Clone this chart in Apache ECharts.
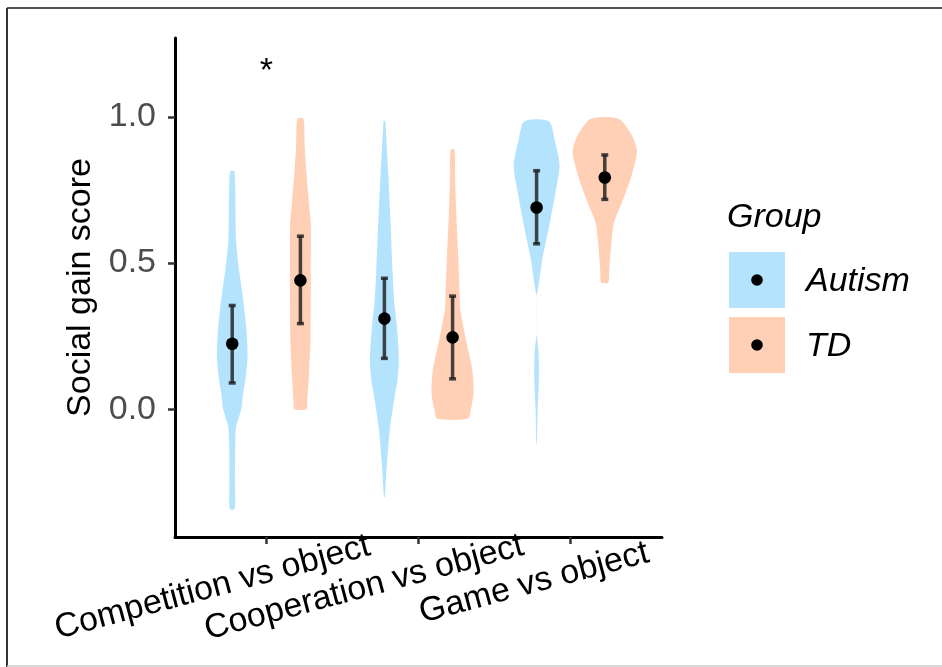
<!DOCTYPE html>
<html>
<head>
<meta charset="utf-8">
<script src="https://cdn.jsdelivr.net/npm/echarts@6/dist/echarts.min.js"></script>
<style>
  html, body { margin: 0; padding: 0; background: #fff; }
  #chart { width: 942px; height: 667px; }
</style>
</head>
<body>
<div id="chart"></div>
<script>
// ---- data ----
const categories = ['Competition vs object', 'Cooperation vs object', 'Game vs object'];
const groups = ['Autism', 'TD'];
const groupColors = ['#b3e3fd', '#ffd0b5'];
const yTicks = [0, 0.5, 1.0];

// violin outlines: score levels (top -> bottom) and half widths (in category units)
const compAutismY = [0.814, 0.745, 0.65, 0.57, 0.48, 0.40, 0.28, 0.18, 0.10, 0.055, 0.0, -0.06, -0.117, -0.234, -0.341];
const compAutismW = [0.013, 0.020, 0.022, 0.026, 0.044, 0.066, 0.092, 0.101, 0.086, 0.072, 0.059, 0.026, 0.020, 0.018, 0.016];
const compTdY = [0.994, 0.90, 0.80, 0.70, 0.63, 0.455, 0.35, 0.23, 0.11, 0.02, 0.0];
const compTdW = [0.020, 0.028, 0.041, 0.057, 0.068, 0.068, 0.068, 0.066, 0.055, 0.044, 0.040];
const coopAutismY = [0.986, 0.90, 0.80, 0.63, 0.455, 0.36, 0.283, 0.17, 0.10, 0.055, -0.06, -0.176, -0.26, -0.30];
const coopAutismW = [0.005, 0.015, 0.026, 0.041, 0.055, 0.066, 0.082, 0.095, 0.086, 0.071, 0.038, 0.018, 0.008, 0.003];
const coopTdY = [0.887, 0.80, 0.686, 0.514, 0.40, 0.34, 0.28, 0.227, 0.134, 0.055, 0.0, -0.032];
const coopTdW = [0.013, 0.016, 0.023, 0.038, 0.046, 0.051, 0.072, 0.092, 0.130, 0.138, 0.120, 0.101];
const gameAutismY = [0.985, 0.917, 0.835, 0.745, 0.63, 0.514, 0.434, 0.40, 0.387, 0.26, 0.25, 0.20, 0.134, 0.07, 0.0, -0.118];
const gameAutismW = [0.080, 0.120, 0.151, 0.125, 0.084, 0.038, 0.016, 0.005, 0.0, 0.0, 0.002, 0.012, 0.016, 0.013, 0.007, 0.002];
const gameTdY = [0.994, 0.939, 0.882, 0.80, 0.71, 0.64, 0.572, 0.48, 0.434];
const gameTdW = [0.091, 0.176, 0.211, 0.176, 0.115, 0.061, 0.044, 0.030, 0.023];

// mean and error bar ends per category
const autismMean = [0.224, 0.310, 0.690];
const autismLow = [0.090, 0.174, 0.566];
const autismHigh = [0.355, 0.448, 0.816];
const tdMean = [0.441, 0.246, 0.793];
const tdLow = [0.293, 0.104, 0.718];
const tdHigh = [0.592, 0.387, 0.870];

// significance marks
const sigCategory = [0];
const sigLevel = [1.155];
const sigText = ['*'];

const violinY = [[compAutismY, coopAutismY, gameAutismY], [compTdY, coopTdY, gameTdY]];
const violinW = [[compAutismW, coopAutismW, gameAutismW], [compTdW, coopTdW, gameTdW]];
const means = [autismMean, tdMean];
const lows = [autismLow, tdLow];
const highs = [autismHigh, tdHigh];

const FONT = '"Liberation Sans", Arial, sans-serif';
const FS = 34;
const DODGE = 0.224;
const Y_MIN = -0.437;
const Y_MAX = 1.27;

const chart = echarts.init(document.getElementById('chart'));

const measure = document.createElement('canvas').getContext('2d');
measure.font = FS + 'px ' + FONT;

function violinSeries(g) {
  return {
    type: 'custom',
    name: groups[g],
    coordinateSystem: 'cartesian2d',
    data: categories.map((c, i) => [i + 1, 0]),
    renderItem(params, api) {
      const i = api.value(0) - 1;
      const band = api.size([1, 0])[0];
      const cx = api.coord([i + 1, 0])[0] + (g === 0 ? -1 : 1) * DODGE * band;
      const ys = violinY[g][i], ws = violinW[g][i];
      const right = ys.map((y, k) => [cx + ws[k] * band, api.coord([i + 1, y])[1]]);
      const left = ys.map((y, k) => [cx - ws[k] * band, api.coord([i + 1, y])[1]]).reverse();
      return {
        type: 'polygon',
        shape: { points: right.concat(left), smooth: 0.25 },
        style: { fill: groupColors[g], stroke: null }
      };
    },
    z: 2
  };
}

function summarySeries(g) {
  return {
    type: 'custom',
    name: groups[g] + ' mean',
    coordinateSystem: 'cartesian2d',
    data: categories.map((c, i) => [i + 1, means[g][i]]),
    renderItem(params, api) {
      const i = api.value(0) - 1;
      const band = api.size([1, 0])[0];
      const cx = api.coord([i + 1, 0])[0] + (g === 0 ? -1 : 1) * DODGE * band;
      const yl = api.coord([i + 1, lows[g][i]])[1];
      const yh = api.coord([i + 1, highs[g][i]])[1];
      const ym = api.coord([i + 1, means[g][i]])[1];
      const bar = { stroke: 'rgba(30,30,30,0.82)', lineWidth: 3.5 };
      return {
        type: 'group',
        children: [
          { type: 'line', shape: { x1: cx, y1: yl, x2: cx, y2: yh }, style: bar },
          { type: 'line', shape: { x1: cx - 3.5, y1: yl, x2: cx + 3.5, y2: yl }, style: bar },
          { type: 'line', shape: { x1: cx - 3.5, y1: yh, x2: cx + 3.5, y2: yh }, style: bar },
          { type: 'circle', shape: { cx: cx, cy: ym, r: 6.3 }, style: { fill: '#000' } }
        ]
      };
    },
    z: 3
  };
}

// rotated category labels, anchored like ggplot angle = 15, hjust ~ 0.7
const labelSeries = {
  type: 'custom',
  coordinateSystem: 'cartesian2d',
  silent: true,
  data: categories.map((c, i) => [i + 1, Y_MIN]),
  renderItem(params, api) {
    const i = api.value(0) - 1;
    const p = api.coord([i + 1, Y_MIN]);
    const L = measure.measureText(categories[i]).width;
    return {
      type: 'text',
      x: p[0], y: p[1],
      rotation: 15 * Math.PI / 180,
      style: {
        text: categories[i], x: -0.7 * L, y: 35,
        align: 'left', verticalAlign: 'middle',
        fill: '#000', font: FS + 'px ' + FONT
      }
    };
  },
  z: 4
};

const sigSeries = {
  type: 'custom',
  coordinateSystem: 'cartesian2d',
  silent: true,
  data: sigCategory.map((c, k) => [c + 1, sigLevel[k]]),
  renderItem(params, api) {
    const p = api.coord([api.value(0), api.value(1)]);
    return {
      type: 'text', x: p[0], y: p[1],
      style: { text: sigText[params.dataIndex], align: 'center', verticalAlign: 'middle', fill: '#000', font: FS + 'px ' + FONT }
    };
  },
  z: 4
};

const legendItems = [];
groups.forEach((name, g) => {
  const top = 252 + g * 65;
  legendItems.push(
    { type: 'rect', shape: { x: 729, y: top, width: 56, height: 56 }, style: { fill: groupColors[g] } },
    { type: 'circle', shape: { cx: 757, cy: top + 28, r: 5.8 }, style: { fill: '#000' } },
    { type: 'text', x: 806, y: top + 30, style: { text: name, fill: '#000', font: 'italic ' + FS + 'px ' + FONT, verticalAlign: 'middle' } }
  );
});

chart.setOption({
  animation: false,
  backgroundColor: '#fff',
  grid: { left: 175, top: 38, right: 280, bottom: 130, containLabel: false },
  xAxis: {
    type: 'value', min: 0.4, max: 3.6,
    axisLine: { show: true, onZero: false, lineStyle: { color: '#000', width: 3 } },
    axisTick: { show: true, customValues: [1, 2, 3], length: 7, lineStyle: { color: '#333', width: 2.5 } },
    axisLabel: { show: false },
    splitLine: { show: false }
  },
  yAxis: {
    type: 'value', min: Y_MIN, max: Y_MAX,
    name: 'Social gain score', nameLocation: 'middle', nameGap: 75,
    nameTextStyle: { color: '#000', fontSize: FS, fontFamily: FONT },
    axisLine: { show: true, onZero: false, lineStyle: { color: '#000', width: 3 } },
    axisTick: { show: true, customValues: yTicks, length: 7, lineStyle: { color: '#333', width: 2.5 } },
    axisLabel: { customValues: yTicks, formatter: v => v.toFixed(1), color: '#4d4d4d', fontSize: FS, fontFamily: FONT, margin: 19 },
    splitLine: { show: false }
  },
  graphic: [
    { type: 'line', shape: { x1: 7, y1: 8, x2: 942, y2: 8 }, style: { stroke: '#555', lineWidth: 2 } },
    { type: 'line', shape: { x1: 7, y1: 8, x2: 7, y2: 667 }, style: { stroke: '#333', lineWidth: 2 } },
    { type: 'line', shape: { x1: 7, y1: 666, x2: 942, y2: 666 }, style: { stroke: '#ccc', lineWidth: 1.5 } },
    { type: 'text', x: 727, y: 218, style: { text: 'Group', fill: '#000', font: 'italic ' + FS + 'px ' + FONT, verticalAlign: 'middle' } }
  ].concat(legendItems),
  series: [violinSeries(0), violinSeries(1), summarySeries(0), summarySeries(1), labelSeries, sigSeries]
});
</script>
</body>
</html>
